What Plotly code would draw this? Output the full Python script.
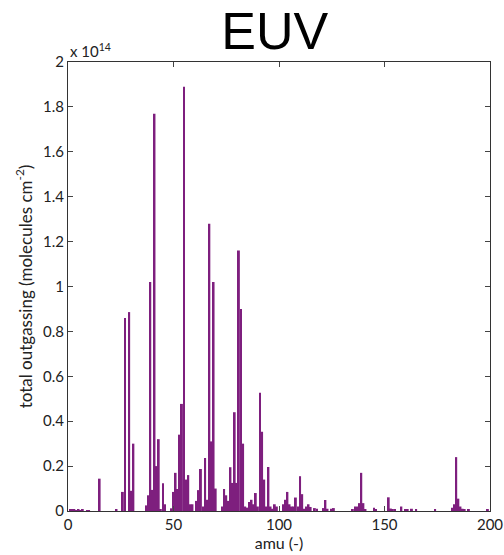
import plotly.graph_objects as go

# amu -> total outgassing (units of 1e14 molecules cm^-2)
amu = list(range(1, 201))
vals = {
    1: 0.006, 2: 0.005, 3: 0.006, 4: 0.004, 5: 0.005, 6: 0.004, 7: 0.005, 9: 0.004, 10: 0.004,
    15: 0.144, 23: 0.005,
    26: 0.085, 27: 0.86, 29: 0.886, 30: 0.09, 31: 0.30,
    37: 0.025, 38: 0.07, 39: 1.02, 40: 0.094, 41: 1.77, 42: 0.20, 43: 0.32, 44: 0.005,
    45: 0.124, 46: 0.03, 49: 0.012, 50: 0.085, 51: 0.17, 52: 0.098, 53: 0.34, 54: 0.477,
    55: 1.89, 56: 0.14, 57: 0.16, 58: 0.03, 59: 0.03, 61: 0.045, 62: 0.093, 63: 0.187,
    64: 0.02, 65: 0.236, 66: 0.05, 67: 1.28, 68: 0.31, 69: 1.02, 70: 0.10, 73: 0.02,
    74: 0.098, 75: 0.07, 76: 0.045, 77: 0.195, 78: 0.125, 79: 0.44, 80: 0.125, 81: 1.16,
    82: 0.90, 83: 0.30, 84: 0.02, 85: 0.015, 86: 0.04, 87: 0.05, 88: 0.03, 89: 0.08,
    90: 0.02, 91: 0.527, 92: 0.353, 93: 0.14, 94: 0.02, 95: 0.196, 96: 0.02, 97: 0.01,
    98: 0.03, 99: 0.02, 102: 0.03, 103: 0.05, 104: 0.085, 105: 0.03, 106: 0.02, 107: 0.02,
    108: 0.06, 109: 0.02, 110: 0.155, 111: 0.075, 112: 0.01, 113: 0.02, 114: 0.03,
    115: 0.018, 117: 0.013, 118: 0.01, 121: 0.013, 122: 0.049, 123: 0.01, 125: 0.01,
    126: 0.013, 135: 0.005, 136: 0.02, 137: 0.02, 138: 0.035, 139: 0.17, 140: 0.035,
    141: 0.005, 145: 0.015, 146: 0.008, 152: 0.061, 153: 0.011, 154: 0.005, 155: 0.005,
    158: 0.02, 160: 0.005, 161: 0.005, 163: 0.01, 165: 0.005, 174: 0.005, 182: 0.015,
    183: 0.03, 184: 0.24, 185: 0.055, 186: 0.02, 187: 0.01, 188: 0.005, 190: 0.005,
    199: 0.005,
}
outgassing = [vals.get(m, 0.0) for m in amu]

y_tickvals = [0, 0.2, 0.4, 0.6, 0.8, 1.0, 1.2, 1.4, 1.6, 1.8, 2.0]
y_ticktext = ["0", "0.2", "0.4", "0.6", "0.8", "1", "1.2", "1.4", "1.6", "1.8", "2"]
x_tickvals = [0, 50, 100, 150, 200]

fnt = "Lato, 'Open Sans', sans-serif"

fig = go.Figure(go.Bar(
    x=amu, y=outgassing, width=0.9,
    marker=dict(color="#7e1f7e", line=dict(width=0)),
))

fig.update_layout(
    width=504, height=555,
    margin=dict(l=68, r=14, t=62, b=44, autoexpand=False),
    paper_bgcolor="white", plot_bgcolor="white",
    showlegend=False,
    title=dict(text="EUV", x=0.545, xanchor="center", y=0.978, yanchor="top",
               font=dict(family="Liberation Sans, Arial, sans-serif", size=52, color="black")),
    font=dict(family=fnt, size=15, color="#222"),
)
fig.update_xaxes(
    range=[0, 200], tickvals=x_tickvals, ticks="inside", ticklen=5, automargin=False,
    showline=True, linecolor="#333", linewidth=1, mirror="ticks",
    showgrid=False, zeroline=False,
    title=dict(text="amu (-)", font=dict(size=16), standoff=2),
    tickfont=dict(size=15),
)
fig.update_yaxes(
    range=[0, 2], tickvals=y_tickvals, ticktext=y_ticktext, ticks="inside", ticklen=5,
    automargin=False,
    showline=True, linecolor="#333", linewidth=1, mirror="ticks",
    showgrid=False, zeroline=False,
    title=dict(text="total outgassing (molecules cm<sup>-2</sup>)", font=dict(size=17), standoff=6),
    tickfont=dict(size=15),
)
fig.add_annotation(
    text="x 10<sup>14</sup>", xref="paper", yref="paper", x=0, y=1, xanchor="left",
    yanchor="bottom", showarrow=False, font=dict(family=fnt, size=15, color="#222"), yshift=0,
)

fig.write_html("out.html")
